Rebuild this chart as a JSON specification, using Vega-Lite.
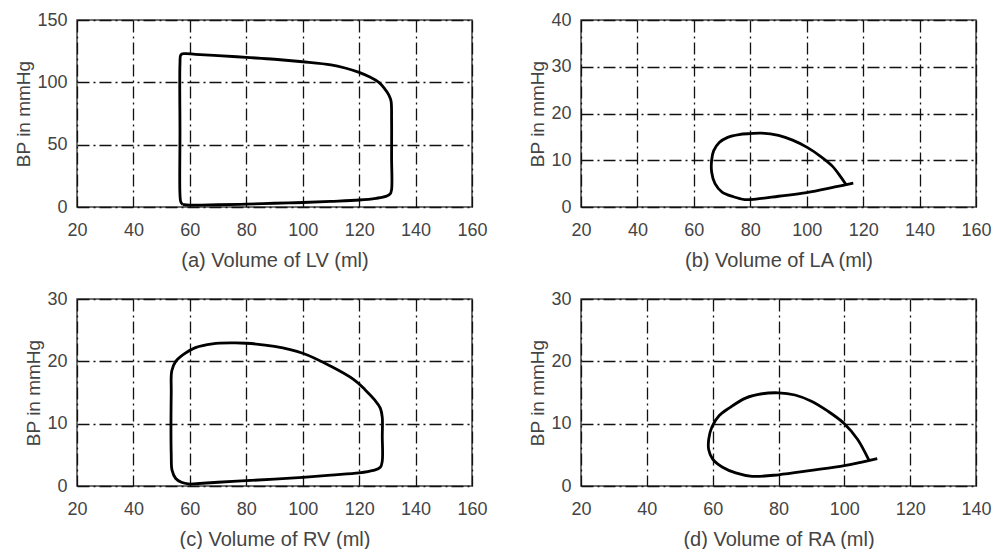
{
  "$schema": "https://vega.github.io/schema/vega-lite/v6.json",
  "background": "white",
  "padding": {"left": 14, "top": 10, "right": 5, "bottom": 5},
  "config": {
    "font": "Liberation Sans",
    "view": {"stroke": "#444", "strokeWidth": 1.5},
    "axis": {
      "labelFontSize": 18, "labelColor": "#444", "labelFlush": false, "labelOverlap": false,
      "titleFontSize": 19, "titleFontWeight": "normal", "titleColor": "#444",
      "ticks": false, "domain": false,
      "gridColor": "#111", "gridDash": [12, 4, 2, 4], "gridWidth": 1.3, "gridOpacity": 1
    },
    "axisX": {"labelPadding": 14, "titlePadding": 11, "titleFontSize": 20},
    "axisY": {"labelPadding": 10, "titlePadding": 3}
  },
  "datasets": {
    "lv": [
      {"v": 57.5, "p": 2}, {"v": 60, "p": 1.5}, {"v": 70, "p": 1.8}, {"v": 80, "p": 2.3}, {"v": 90, "p": 3},
      {"v": 100, "p": 3.6}, {"v": 110, "p": 4.5}, {"v": 120, "p": 5.6}, {"v": 126, "p": 7}, {"v": 129.5, "p": 8.5},
      {"v": 131, "p": 10.5}, {"v": 131.5, "p": 14}, {"v": 131.5, "p": 40}, {"v": 131.5, "p": 70}, {"v": 131.3, "p": 85},
      {"v": 130.5, "p": 90}, {"v": 129, "p": 95}, {"v": 127, "p": 100}, {"v": 124, "p": 104}, {"v": 120, "p": 108},
      {"v": 115, "p": 111.5}, {"v": 110, "p": 114}, {"v": 100, "p": 116.5}, {"v": 90, "p": 118.5}, {"v": 80, "p": 120},
      {"v": 70, "p": 121.5}, {"v": 62, "p": 122.5}, {"v": 58, "p": 123}, {"v": 56.8, "p": 122}, {"v": 56.5, "p": 115},
      {"v": 56.5, "p": 60}, {"v": 56.5, "p": 10}, {"v": 56.8, "p": 4}, {"v": 57.5, "p": 2}
    ],
    "la": [
      {"v": 116.5, "p": 5.1}, {"v": 110, "p": 4.3}, {"v": 100, "p": 3.1}, {"v": 90, "p": 2.3}, {"v": 82, "p": 1.7},
      {"v": 78, "p": 1.6}, {"v": 74, "p": 2.2}, {"v": 70, "p": 3.2}, {"v": 67.5, "p": 5}, {"v": 66.3, "p": 7.5},
      {"v": 66.3, "p": 10}, {"v": 67, "p": 12}, {"v": 69, "p": 13.8}, {"v": 72, "p": 14.9}, {"v": 76, "p": 15.5},
      {"v": 80, "p": 15.7}, {"v": 84, "p": 15.8}, {"v": 90, "p": 15.3}, {"v": 95, "p": 14.3}, {"v": 100, "p": 12.8},
      {"v": 105, "p": 10.8}, {"v": 109, "p": 8.8}, {"v": 112, "p": 6.5}, {"v": 114, "p": 4.7}
    ],
    "rv": [
      {"v": 60, "p": 0.3}, {"v": 70, "p": 0.6}, {"v": 80, "p": 0.85}, {"v": 90, "p": 1.1}, {"v": 100, "p": 1.4},
      {"v": 110, "p": 1.75}, {"v": 120, "p": 2.1}, {"v": 125, "p": 2.5}, {"v": 127.5, "p": 3}, {"v": 128.2, "p": 4},
      {"v": 128.2, "p": 8}, {"v": 128.2, "p": 11}, {"v": 127.5, "p": 12.5}, {"v": 125.5, "p": 13.8}, {"v": 122, "p": 15.5},
      {"v": 118, "p": 17.1}, {"v": 110, "p": 19.2}, {"v": 100, "p": 21.3}, {"v": 90, "p": 22.4}, {"v": 80, "p": 22.9},
      {"v": 75, "p": 22.95}, {"v": 68, "p": 22.8}, {"v": 62, "p": 22.2}, {"v": 58, "p": 21.2}, {"v": 55, "p": 20},
      {"v": 53.6, "p": 18.5}, {"v": 53.4, "p": 15}, {"v": 53.4, "p": 5}, {"v": 53.7, "p": 2.5}, {"v": 55, "p": 1.2},
      {"v": 57, "p": 0.6}, {"v": 60, "p": 0.3}
    ],
    "ra": [
      {"v": 110, "p": 4.4}, {"v": 105, "p": 3.8}, {"v": 100, "p": 3.25}, {"v": 90, "p": 2.5}, {"v": 80, "p": 1.8},
      {"v": 72, "p": 1.55}, {"v": 67, "p": 2.1}, {"v": 63, "p": 3}, {"v": 60, "p": 4.3}, {"v": 58.8, "p": 5.8},
      {"v": 58.8, "p": 7.5}, {"v": 59.8, "p": 9.5}, {"v": 62, "p": 11.3}, {"v": 65, "p": 12.5}, {"v": 70, "p": 14.1},
      {"v": 75, "p": 14.8}, {"v": 80, "p": 14.95}, {"v": 85, "p": 14.6}, {"v": 90, "p": 13.6}, {"v": 95, "p": 12},
      {"v": 100, "p": 10}, {"v": 104, "p": 7.5}, {"v": 107.5, "p": 4.1}
    ]
  },
  "columns": 2,
  "spacing": {"row": 18, "column": 40},
  "concat": [
    {
      "width": 395, "height": 187,
      "data": {"name": "lv"},
      "mark": {"type": "line", "color": "black", "strokeWidth": 2.8, "interpolate": "catmull-rom"},
      "encoding": {
        "x": {"field": "v", "type": "quantitative", "scale": {"domain": [20, 160], "nice": false, "zero": false},
              "axis": {"values": [20, 40, 60, 80, 100, 120, 140, 160], "title": "(a) Volume of LV (ml)"}},
        "y": {"field": "p", "type": "quantitative", "scale": {"domain": [0, 150], "nice": false},
              "axis": {"values": [0, 50, 100, 150], "title": "BP in mmHg"}},
        "order": {"value": null}
      }
    },
    {
      "width": 395, "height": 187,
      "data": {"name": "la"},
      "mark": {"type": "line", "color": "black", "strokeWidth": 2.8, "interpolate": "catmull-rom"},
      "encoding": {
        "x": {"field": "v", "type": "quantitative", "scale": {"domain": [20, 160], "nice": false, "zero": false},
              "axis": {"values": [20, 40, 60, 80, 100, 120, 140, 160], "title": "(b) Volume of LA (ml)"}},
        "y": {"field": "p", "type": "quantitative", "scale": {"domain": [0, 40], "nice": false},
              "axis": {"values": [0, 10, 20, 30, 40], "title": "BP in mmHg"}},
        "order": {"value": null}
      }
    },
    {
      "width": 395, "height": 187,
      "data": {"name": "rv"},
      "mark": {"type": "line", "color": "black", "strokeWidth": 2.8, "interpolate": "catmull-rom"},
      "encoding": {
        "x": {"field": "v", "type": "quantitative", "scale": {"domain": [20, 160], "nice": false, "zero": false},
              "axis": {"values": [20, 40, 60, 80, 100, 120, 140, 160], "title": "(c) Volume of RV (ml)"}},
        "y": {"field": "p", "type": "quantitative", "scale": {"domain": [0, 30], "nice": false},
              "axis": {"values": [0, 10, 20, 30], "title": "BP in mmHg"}},
        "order": {"value": null}
      }
    },
    {
      "width": 395, "height": 187,
      "data": {"name": "ra"},
      "mark": {"type": "line", "color": "black", "strokeWidth": 2.8, "interpolate": "catmull-rom"},
      "encoding": {
        "x": {"field": "v", "type": "quantitative", "scale": {"domain": [20, 140], "nice": false, "zero": false},
              "axis": {"values": [20, 40, 60, 80, 100, 120, 140], "title": "(d) Volume of RA (ml)"}},
        "y": {"field": "p", "type": "quantitative", "scale": {"domain": [0, 30], "nice": false},
              "axis": {"values": [0, 10, 20, 30], "title": "BP in mmHg"}},
        "order": {"value": null}
      }
    }
  ]
}
